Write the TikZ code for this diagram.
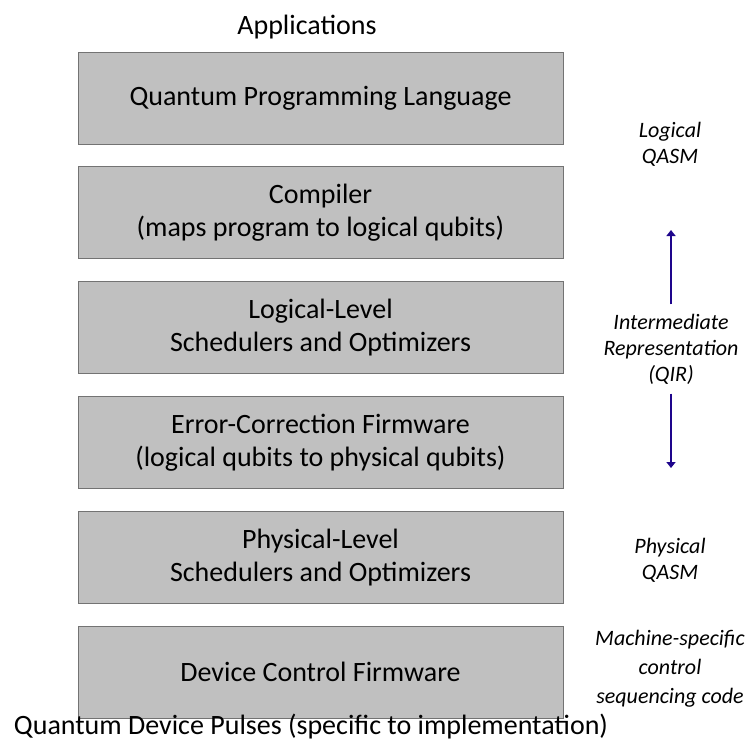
\documentclass[tikz,border=0pt]{standalone}
\usepackage{fontspec}
\setmainfont{Carlito}
\usepackage{tikz}
\usetikzlibrary{positioning,arrows.meta}
\definecolor{arrowblue}{RGB}{30,5,140}
\definecolor{boxgray}{RGB}{192,192,192}

\begin{document}
\begin{tikzpicture}[x=1pt, y=1pt,
        layernode/.style={rectangle, draw=black!55, fill=boxgray, line width=0.8pt, minimum width=485pt, minimum height=92pt, align=center, font=\fontsize{28}{33}\selectfont},
        plainnode/.style={font=\fontsize{28}{33}\selectfont},
        sidenode/.style={align=center, font=\fontsize{22}{26}\selectfont\itshape},
        irarrow/.style={draw=arrowblue, line width=2.8pt, -{Triangle[width=9pt,length=6pt]}}]

        \useasboundingbox (0,0) rectangle (749,-740);

        \node[layernode] (1) at (320.5,-98) {Quantum Programming Language};
        \node[layernode] (2) [below=22pt of 1] {Compiler\\(maps program to logical qubits)};
        \node[layernode] (3) [below=22pt of 2] {Logical-Level\\Schedulers and Optimizers};
        \node[layernode] (4) [below=22pt of 3] {Error-Correction Firmware\\(logical qubits to physical qubits)};
        \node[layernode] (5) [below=22pt of 4] {Physical-Level\\Schedulers and Optimizers};
        \node[layernode] (6) [below=22pt of 5] {Device Control Firmware};

        \node[plainnode] (apps) at (307,-27) {Applications};
        \node[plainnode, inner sep=1pt] (pulses) at (311,-726) {Quantum Device Pulses (specific to implementation)};

        \node[sidenode] (lqasm) at (670,-144) {Logical\\QASM};
        \node[sidenode] (qir) at (671,-349) {Intermediate\\Representation\\(QIR)};
        \node[sidenode] (pqasm) at (670,-560) {Physical\\QASM};
        \node[sidenode, font=\fontsize{22}{29}\selectfont\itshape] (mcode) at (670,-669) {Machine-specific\\control\\sequencing code};

        \coordinate (irtop) at (671,-230);
        \coordinate (irbot) at (671,-468);
        \draw[irarrow, shorten <=6pt] (qir.north) -- (irtop);
        \draw[irarrow, shorten <=6pt] (qir.south) -- (irbot);

        \end{tikzpicture}
\end{document}
